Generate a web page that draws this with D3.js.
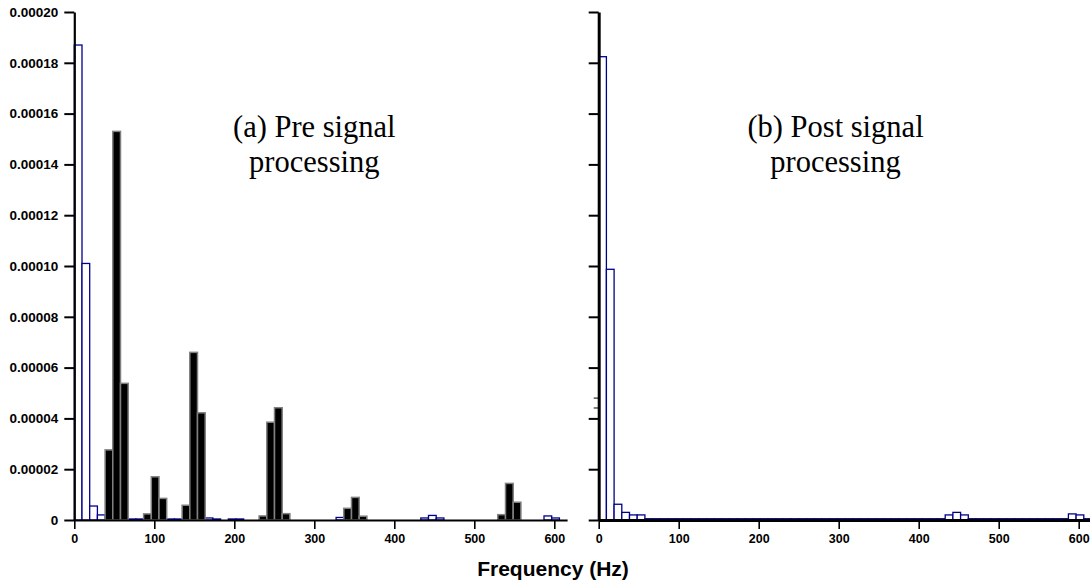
<!DOCTYPE html>
<html lang="en">
<head>
  <meta charset="utf-8">
  <title>Pre / post signal processing spectra</title>
  <script src="https://cdn.jsdelivr.net/npm/d3@7"></script>
  <style>
    body { margin: 0; background: #fff; }
    .tick text { font-family: "Liberation Sans", Arial, sans-serif; font-weight: bold; }
  </style>
</head>
<body>
  <svg class="chart" width="1090" height="583"></svg>
  <script>
    // spectrum bins are ~9.6 Hz wide, 64 of them
    var binHz = 9.625;
    var freqTicks = [0, 100, 200, 300, 400, 500, 600];
    var powerTicks = [0, 0.00002, 0.00004, 0.00006, 0.00008, 0.00010,
                      0.00012, 0.00014, 0.00016, 0.00018, 0.00020];

    // (a) pre signal processing - open blue bars
    var preBlue = [0.000187, 0.000101, 0.0000055, 0.000002, 0, 0, 0, 0.0000004,
                   0.0000004, 0, 0, 0, 0.0000004, 0.0000004, 0, 0,
                   0, 0.0000008, 0.0000004, 0, 0.0000004, 0.0000004, 0, 0,
                   0, 0, 0, 0, 0, 0, 0, 0,
                   0, 0, 0.000001, 0, 0, 0, 0, 0,
                   0, 0, 0, 0, 0, 0.0000008, 0.0000018, 0.0000008,
                   0, 0, 0, 0, 0, 0, 0, 0,
                   0, 0, 0, 0, 0, 0.0000016, 0.0000008, 0];

    // (a) pre signal processing - solid black bars
    var preBlack = [0, 0, 0, 0, 0.0000276, 0.000153, 0.0000538, 0,
                    0, 0.0000024, 0.000017, 0.0000085, 0, 0, 0.0000058, 0.000066,
                    0.0000422, 0, 0, 0, 0, 0, 0, 0,
                    0.0000016, 0.0000385, 0.0000442, 0.0000025, 0, 0, 0, 0,
                    0, 0, 0, 0.0000046, 0.0000089, 0.0000015, 0, 0,
                    0, 0, 0, 0, 0, 0, 0, 0,
                    0, 0, 0, 0, 0, 0, 0, 0.0000021,
                    0.0000144, 0.000007, 0, 0, 0, 0, 0, 0];

    // (b) post signal processing - open blue bars
    var postBlue = [0.0001824, 0.0000987, 0.0000062, 0.000003, 0.000002, 0.000002, 0.0000005, 0.0000005,
                    0.0000005, 0.0000005, 0.0000005, 0.0000005, 0.0000005, 0.0000005, 0.0000005, 0.0000005,
                    0.0000005, 0.0000005, 0.0000005, 0.0000005, 0.0000005, 0.0000005, 0.0000005, 0.0000005,
                    0.0000005, 0.0000005, 0.0000005, 0.0000005, 0.0000005, 0.0000005, 0.0000005, 0.0000005,
                    0.0000005, 0.0000005, 0.0000005, 0.0000005, 0.0000005, 0.0000005, 0.0000005, 0.0000005,
                    0.0000005, 0.0000005, 0.0000005, 0.0000005, 0.0000005, 0.000002, 0.000003, 0.000002,
                    0.0000005, 0.0000005, 0.0000005, 0.0000005, 0.0000005, 0.0000005, 0.0000005, 0.0000005,
                    0.0000005, 0.0000005, 0.0000005, 0.0000005, 0.0000005, 0.0000024, 0.000002, 0.0000005];

    var postMinorTicks = [0.0000441, 0.000048];

    var svg = d3.select("svg.chart");

    var y = d3.scaleLinear()
              .domain([0, 0.0002])
              .range([520, 12]);

    function toBins(values) {
      return values.map(function(v, i) {
        return { f0: i * binHz, f1: (i + 1) * binHz, v: v };
      });
    }

    function drawBars(g, x, values, fill, stroke, sw) {
      g.append("g")
       .selectAll("rect")
       .data(toBins(values).filter(function(d) { return d.v > 0; }))
       .enter().append("rect")
       .attr("x", function(d) { return x(d.f0); })
       .attr("width", function(d) { return x(d.f1) - x(d.f0); })
       .attr("y", function(d) { return y(d.v); })
       .attr("height", function(d) { return y(0) - y(d.v); })
       .attr("fill", fill)
       .attr("stroke", stroke)
       .attr("stroke-width", sw);
    }

    function drawAxes(x, left, showLabels, lineWidth) {
      var xAxis = d3.axisBottom(x)
                    .tickValues(freqTicks)
                    .tickSize(9)
                    .tickSizeOuter(0)
                    .tickPadding(5)
                    .tickFormat(d3.format("d"));

      var gx = svg.append("g")
                  .attr("transform", "translate(0," + y(0) + ")")
                  .call(xAxis);
      gx.select(".domain").attr("stroke-width", lineWidth);
      gx.selectAll(".tick line").attr("stroke-width", 1.6);
      gx.selectAll(".tick text").attr("font-size", 12.5).attr("fill", "#000");

      var yAxis = d3.axisLeft(y)
                    .tickValues(powerTicks)
                    .tickSize(10)
                    .tickSizeOuter(0)
                    .tickPadding(6)
                    .tickFormat(function(d) { return showLabels ? (d === 0 ? "0" : d3.format(".5f")(d)) : ""; });

      var gy = svg.append("g")
                  .attr("transform", "translate(" + left + ",0)")
                  .call(yAxis);
      gy.select(".domain").attr("stroke-width", lineWidth);
      gy.selectAll(".tick line").attr("stroke-width", 2);
      gy.selectAll(".tick text").attr("font-size", 13.5).attr("fill", "#000");
      return gy;
    }

    function note(x, lines) {
      var t = svg.append("text")
                 .attr("text-anchor", "middle")
                 .attr("font-family", "'Liberation Serif', 'Times New Roman', serif")
                 .attr("font-size", 30.5)
                 .attr("fill", "#000");
      lines.forEach(function(s, i) {
        t.append("tspan").attr("x", x).attr("y", 137 + i * 35).text(s);
      });
    }

    // ---- panel (a) ----
    var xa = d3.scaleLinear().domain([0, 616]).range([74.3, 567.1]);
    var ga = svg.append("g");
    drawBars(ga, xa, preBlue, "#fff", "#00008b", 1.3);
    drawBars(ga, xa, preBlack, "#000", "#808080", 1.5);
    drawAxes(xa, xa(0), true, 2.2);
    note(xa(300), ["(a) Pre signal", "processing"]);

    // ---- panel (b) ----
    var xb = d3.scaleLinear().domain([0, 616]).range([598.7, 1091.5]);
    var gb = svg.append("g");
    drawAxes(xb, xb(0), false, 3);
    drawBars(gb, xb, postBlue, "#fff", "#00008b", 1.3);

    // small stray ticks on the (b) axis
    svg.append("g")
       .selectAll("line")
       .data(postMinorTicks)
       .enter().append("line")
       .attr("x1", xb(0) - 5)
       .attr("x2", xb(0))
       .attr("y1", function(d) { return y(d); })
       .attr("y2", function(d) { return y(d); })
       .attr("stroke", "#000")
       .attr("stroke-width", 1);

    note(xb(296), ["(b) Post signal", "processing"]);

    svg.append("text")
       .attr("x", 553)
       .attr("y", 576)
       .attr("text-anchor", "middle")
       .attr("font-family", "'Liberation Sans', Arial, sans-serif")
       .attr("font-weight", "bold")
       .attr("font-size", 21)
       .text("Frequency (Hz)");
  </script>
</body>
</html>
